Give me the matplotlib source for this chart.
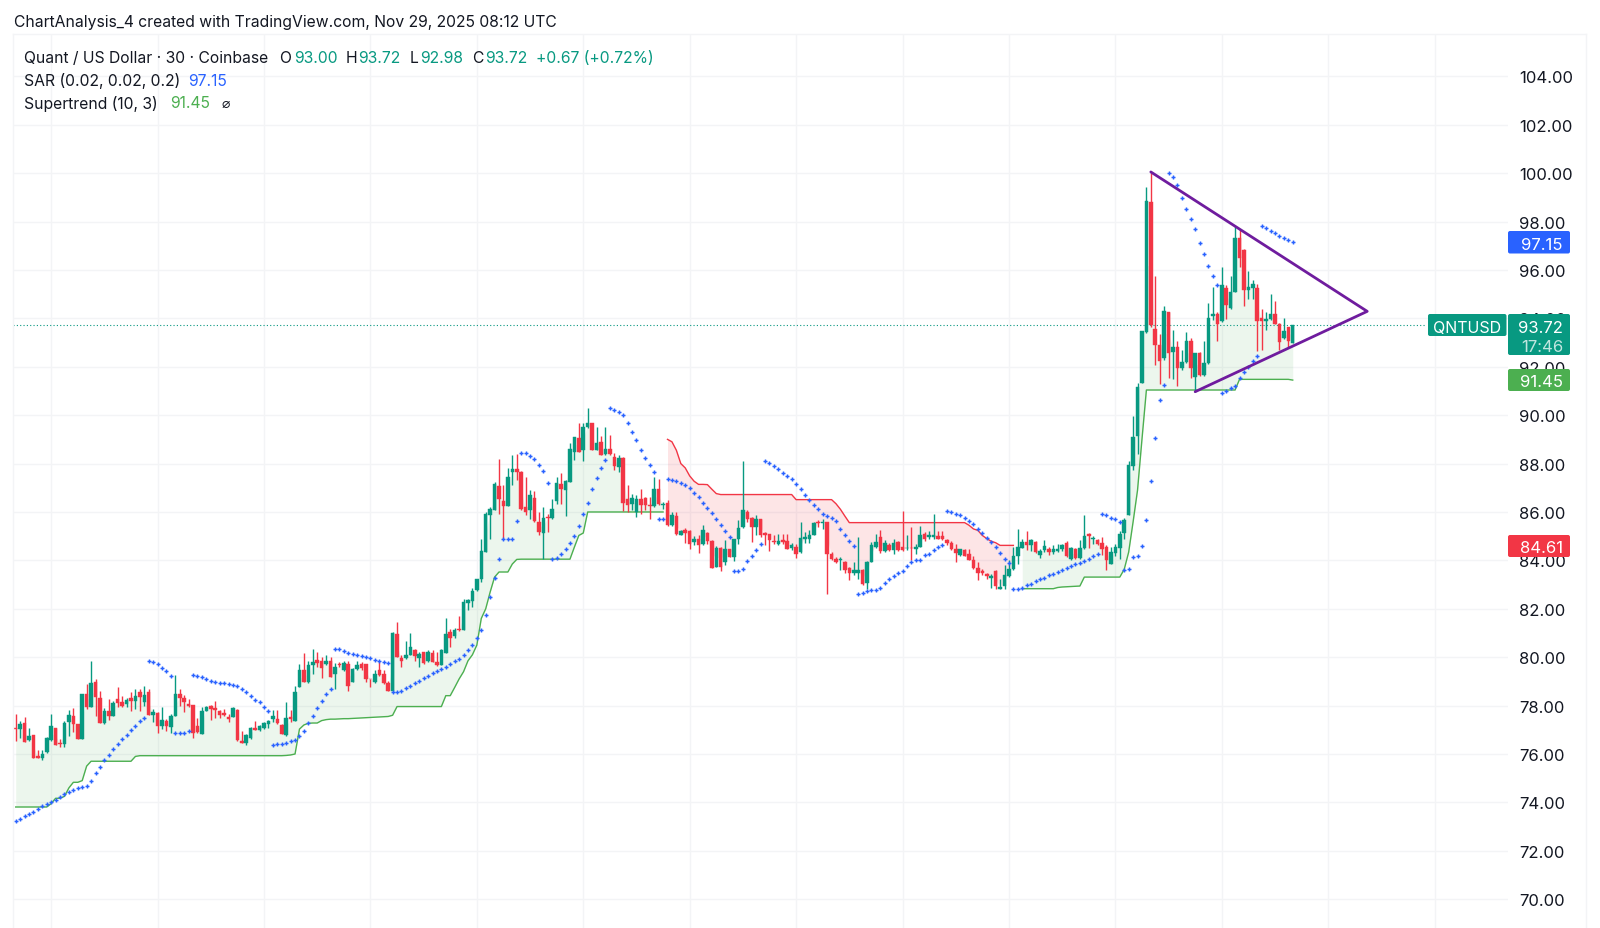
import numpy as np
import matplotlib
matplotlib.use('Agg')
from matplotlib import pyplot as plt
from matplotlib.patches import FancyBboxPatch

plt.rcParams['font.family'] = ['Inter', 'DejaVu Sans']

# 30 min candles
opens = [77.09,77.03,77.28,76.58,76.8,75.93,75.82,76.07,76.58,77.08,
76.45,76.41,77.34,77.59,77.23,76.62,78.48,77.96,78.99,78.3,
77.27,77.77,77.59,78.28,78.14,78.07,78.33,78.21,78.58,78.14,
78.58,77.63,77.7,77.14,77.38,77.1,77.56,78.48,78.3,78.07,
78.03,77.14,76.83,77.79,77.97,77.88,77.79,77.7,77.54,77.54,
77.83,76.55,76.44,76.65,77.08,76.99,77.08,77.23,77.45,77.45,
77.21,76.79,77.54,77.38,78.76,79.45,78.97,79.66,79.9,79.83,
79.72,79.83,79.31,79.72,79.49,79.72,78.97,79.52,79.72,79.7,
79.1,78.99,79.45,79.31,78.94,78.62,80.97,79.97,79.96,80.07,
80.28,79.96,80.2,79.83,80.17,79.82,79.68,80.18,81.03,80.86,
81.17,81.14,82.25,82.34,82.76,83.24,84.34,85.89,86.07,87.08,
86.46,86.25,87.66,87.77,87.66,86.2,86.07,86.58,85.59,85.14,
85.79,85.75,86.46,87.14,86.9,87.24,88.48,89.06,88.58,89.52,
89.67,88.58,88.9,88.41,88.59,88.28,87.86,88.23,86.55,86.34,
86.0,86.55,86.59,86.28,86.25,86.97,86.3,86.37,85.45,85.83,
85.06,85.24,85.2,84.76,84.9,84.69,85.13,84.81,83.72,84.51,
83.93,84.45,84.14,84.9,85.36,86.0,85.76,85.39,85.7,85.13,
85.09,84.81,84.69,84.83,84.81,84.51,84.55,84.34,84.9,84.9,
85.03,85.6,85.55,85.59,84.28,84.07,84.0,83.93,83.69,83.48,
83.49,83.59,83.06,83.93,84.55,84.97,84.37,84.65,84.41,84.76,
84.55,84.5,84.52,84.48,84.55,85.1,84.97,84.97,85.0,85.0,
84.83,84.73,84.45,84.23,84.41,84.25,84.03,83.68,83.56,83.45,
83.27,83.56,82.83,82.94,83.35,83.63,84.18,84.52,84.76,84.62,
84.76,84.21,84.41,84.48,84.34,84.37,84.45,84.72,84.07,84.48,
84.11,84.51,85.1,84.9,84.83,84.73,84.55,83.86,84.32,84.52,
85.14,85.89,87.9,89.14,91.31,93.44,98.79,93.58,92.89,92.37,
94.26,92.59,92.82,91.96,92.18,93.06,91.59,92.55,91.66,92.16,
94.08,94.17,93.88,95.25,94.43,95.09,97.31,96.83,95.16,95.26,
95.25,94.02,93.89,93.96,94.19,93.78,93.17,93.65,93.0]

closes = [77.05,77.24,76.51,76.76,75.85,75.83,76.0,76.68,77.14,76.39,
76.41,77.28,77.61,77.23,76.62,78.48,77.96,78.94,78.34,77.28,
77.77,77.59,78.11,78.1,78.0,78.25,78.17,78.41,78.34,78.44,
77.61,77.75,77.14,77.42,77.14,77.59,78.48,78.3,78.14,77.97,
76.87,76.9,77.77,77.96,77.86,77.82,77.61,77.61,77.45,77.9,
76.58,76.46,76.79,77.08,77.01,77.14,77.28,77.38,77.56,77.28,
76.83,77.48,77.45,78.58,79.48,78.97,79.66,79.79,79.77,79.56,
79.83,79.2,79.59,79.66,79.77,78.79,79.52,79.66,79.54,79.08,
79.08,79.31,79.27,78.94,78.62,81.0,80.0,79.83,80.07,80.41,
80.04,80.14,79.75,80.21,79.82,79.66,80.28,80.97,80.81,81.14,
81.12,82.3,82.36,82.73,83.21,84.39,85.93,86.11,87.14,86.52,
86.25,87.45,87.79,87.66,86.14,86.0,86.69,85.61,85.17,85.75,
85.75,86.14,87.21,86.97,87.27,88.59,89.1,88.48,89.52,89.68,
88.57,88.87,88.37,88.62,88.41,87.9,88.21,86.39,86.28,86.59,
86.55,86.28,86.3,86.25,86.97,86.32,86.34,85.45,85.89,85.08,
85.2,85.14,84.68,84.9,84.65,85.27,84.81,83.7,84.52,83.72,
84.45,84.14,84.9,85.34,86.07,85.72,85.39,85.7,85.03,85.06,
84.83,84.76,84.79,84.76,84.48,84.62,84.28,84.94,84.97,85.06,
85.54,85.54,85.6,84.28,84.07,83.93,84.07,83.59,83.49,83.59,
83.61,83.03,83.93,84.65,84.76,84.37,84.73,84.44,84.72,84.41,
84.41,84.52,84.5,84.55,85.06,84.9,85.03,85.03,84.9,84.9,
84.72,84.48,84.32,84.45,84.2,84.03,83.68,83.49,83.49,83.35,
83.35,82.94,82.92,83.38,83.63,84.2,84.55,84.76,84.65,84.83,
84.34,84.37,84.59,84.34,84.45,84.48,84.65,84.18,84.51,84.1,
84.51,85.01,85.01,84.94,84.66,84.48,84.0,84.34,84.55,85.08,
85.68,87.96,89.1,91.17,93.47,98.86,93.71,92.89,92.23,94.3,
92.55,92.8,91.93,92.21,93.06,91.96,92.55,91.68,92.16,94.03,
94.17,93.78,95.39,94.54,95.09,97.32,96.5,95.16,95.29,95.43,
93.89,93.89,93.99,94.19,93.78,93.03,93.47,93.06,93.72]

highs = [77.65,77.38,77.52,77.06,76.8,76.17,76.17,76.69,77.65,77.08,
76.62,77.38,77.83,77.89,77.23,78.48,78.9,79.83,79.08,78.62,
77.9,78.28,78.2,78.76,78.39,78.3,78.55,78.69,78.69,78.83,
78.69,77.86,77.72,77.96,77.45,77.65,79.27,78.69,78.44,78.28,
78.04,77.5,77.93,78.0,78.03,78.17,77.83,77.86,77.65,77.93,
77.86,76.97,76.83,77.13,77.38,77.2,77.34,77.41,77.83,77.83,
77.24,78.14,77.82,78.8,79.72,80.18,79.86,80.32,80.23,80.0,
80.1,80.0,79.77,79.82,79.83,79.86,79.54,79.86,79.79,79.72,
79.1,79.45,79.83,79.48,79.03,81.03,81.45,80.1,80.65,81.0,
80.32,80.21,80.21,80.28,80.3,80.2,80.32,81.61,81.17,81.2,
81.72,82.41,82.39,82.86,83.23,84.9,86.0,86.2,87.24,88.17,
87.1,87.8,88.37,88.41,87.7,87.45,86.9,86.86,86.0,86.2,
85.93,86.55,87.45,87.59,87.31,88.83,89.1,89.66,89.66,90.28,
89.68,89.52,89.15,89.52,89.2,88.45,88.34,88.28,87.1,86.76,
86.69,86.97,86.62,86.6,87.45,87.35,86.41,86.48,86.0,86.0,
85.24,85.34,85.24,85.0,85.03,85.48,85.17,84.85,84.6,84.55,
84.83,84.48,84.9,85.66,88.1,86.07,85.79,85.86,85.72,85.17,
85.1,85.03,85.1,85.08,85.1,84.73,84.69,85.59,85.17,85.24,
85.59,85.68,85.7,85.6,84.34,84.14,84.14,83.96,83.72,83.93,
84.97,83.66,83.96,84.76,85.1,85.24,84.83,84.7,84.9,84.8,
86.03,85.06,85.38,84.69,85.41,85.17,85.2,85.93,85.2,85.2,
84.9,84.79,84.69,84.48,84.45,84.45,84.2,83.93,83.63,83.49,
83.45,83.59,83.24,83.79,84.0,84.55,85.28,84.9,85.2,84.9,
84.79,84.45,84.83,84.55,84.65,84.69,84.69,84.79,84.55,84.51,
84.83,85.86,85.14,85.0,84.87,84.97,84.62,84.55,84.69,85.2,
85.75,88.1,89.97,91.35,93.49,99.41,100.02,95.77,93.37,94.51,
94.27,93.51,93.06,92.69,93.44,93.17,92.55,92.59,93.06,94.65,
95.29,94.26,96.12,95.36,95.77,97.8,97.69,96.87,95.94,95.57,
95.43,94.4,94.26,94.99,94.7,93.79,94.03,93.66,93.72]

lows = [76.55,76.65,76.5,76.55,75.82,75.82,75.77,76.04,76.55,76.38,
76.28,76.28,76.76,76.9,76.6,76.6,77.86,77.96,77.59,77.28,
77.24,77.41,77.56,77.93,77.93,77.93,77.79,77.86,77.79,78.0,
77.61,77.31,76.87,77.03,76.97,76.87,77.56,77.97,77.72,77.93,
76.66,76.87,76.83,77.76,77.42,77.49,77.49,77.56,77.31,77.52,
76.55,76.44,76.37,76.62,76.99,76.97,77.03,77.09,77.34,77.24,
76.83,76.76,77.31,77.38,78.76,78.97,78.94,79.31,79.59,79.13,
79.68,79.17,78.69,79.59,79.41,78.62,78.97,79.49,79.49,78.97,
78.76,78.94,79.24,78.9,78.59,78.62,80.0,79.61,79.93,80.07,
79.86,79.59,79.72,79.79,79.79,79.65,79.68,80.18,80.41,80.79,
81.1,81.14,81.93,82.07,82.75,83.1,84.34,84.9,86.07,85.93,
84.9,86.25,87.1,87.31,86.1,85.89,85.7,85.59,85.03,84.07,
85.17,85.7,86.34,86.34,85.83,87.24,88.14,88.48,88.1,89.48,
88.56,88.55,88.35,88.35,88.37,87.72,87.66,86.03,86.0,86.07,
85.79,85.93,86.1,85.7,86.2,86.28,86.14,85.42,85.42,85.03,
85.03,84.73,84.48,84.62,84.32,84.65,84.66,83.69,83.72,83.57,
83.79,84.14,83.96,84.69,85.34,85.6,84.76,85.03,84.97,84.65,
84.37,84.69,84.65,84.69,84.48,84.41,84.1,84.32,84.73,84.73,
85.03,85.38,85.31,82.62,84.03,83.9,83.6,83.49,83.17,83.38,
83.24,83.0,82.83,83.93,84.5,84.32,84.34,84.4,84.28,84.37,
84.37,84.41,84.03,84.28,84.55,84.79,84.9,84.9,84.9,84.85,
84.62,84.41,83.93,84.2,84.18,84.0,83.66,83.17,83.38,83.21,
82.85,82.83,82.8,82.8,83.31,83.59,83.86,84.51,84.41,84.37,
84.3,84.11,84.34,84.23,84.28,84.34,84.37,84.14,84.03,84.07,
84.07,84.48,84.51,84.69,84.62,84.21,83.61,83.83,84.18,84.07,
84.9,85.89,87.72,88.41,91.31,93.4,93.65,92.07,91.27,92.27,
91.52,91.49,91.22,91.86,92.14,91.55,90.97,91.63,91.63,92.1,
93.92,93.06,93.85,93.99,94.4,95.09,96.11,94.5,94.81,94.81,
92.66,92.69,93.51,93.92,93.78,92.69,93.14,92.78,92.98]

# supertrend, first up leg
st_up1 = [73.81,73.81,73.81,73.81,73.81,73.81,73.81,73.81,73.95,74.17,
74.17,74.25,74.6,74.83,74.83,74.9,75.5,75.7,75.7,75.7,
75.7,75.7,75.7,75.7,75.7,75.7,75.7,75.9,75.93,75.93,
75.93,75.93,75.93,75.93,75.93,75.93,75.93,75.93,75.93,75.93,
75.93,75.93,75.93,75.93,75.93,75.93,75.93,75.93,75.93,75.93,
75.93,75.93,75.93,75.93,75.93,75.93,75.93,75.93,75.93,75.93,
75.93,75.94,75.96,76.0,77.03,77.2,77.27,77.28,77.28,77.38,
77.42,77.44,77.44,77.45,77.46,77.46,77.47,77.48,77.49,77.5,
77.51,77.52,77.53,77.54,77.55,77.6,77.96,77.96,77.96,77.96,
77.96,77.96,77.96,77.96,77.96,77.96,77.96,78.41,78.41,78.75,
79.1,79.4,79.85,80.1,80.5,81.6,82.0,82.69,83.31,83.52,
83.52,83.52,83.85,84.04,84.05,84.05,84.05,84.05,84.05,84.05,
84.05,84.05,84.05,84.05,84.05,84.05,84.55,85.03,85.13,86.0,
86.0,86.0,86.0,86.0,86.0,86.0,86.0,86.0,86.0,86.0,
86.0,86.0,86.0,86.0,86.0,86.0,86.0]
# down leg
st_down = [89.0,88.9,88.55,88.0,87.82,87.49,87.27,87.14,87.14,87.13,
86.94,86.76,86.72,86.72,86.72,86.72,86.72,86.72,86.72,86.72,
86.72,86.72,86.72,86.72,86.72,86.72,86.72,86.72,86.72,86.51,
86.51,86.51,86.51,86.51,86.51,86.51,86.51,86.51,86.34,86.11,
85.83,85.56,85.56,85.56,85.56,85.56,85.56,85.56,85.56,85.56,
85.56,85.56,85.56,85.56,85.56,85.56,85.56,85.56,85.56,85.56,
85.56,85.56,85.56,85.56,85.56,85.56,85.56,85.56,85.45,85.3,
85.24,85.03,84.9,84.79,84.73,84.62,84.62,84.62,84.62]
# last up leg
st_up2 = [82.83,82.83,82.83,82.83,82.83,82.83,82.83,82.83,82.88,82.9,
82.91,82.92,82.93,82.94,83.31,83.31,83.31,83.31,83.31,83.31,
83.31,83.31,83.31,83.63,84.34,85.59,86.9,89.0,91.04,91.04,
91.04,91.04,91.04,91.04,91.04,91.04,91.04,91.04,91.04,91.04,
91.04,91.04,91.04,91.04,91.04,91.04,91.04,91.04,91.04,91.48,
91.48,91.48,91.48,91.48,91.48,91.48,91.48,91.48,91.48,91.48,
91.48,91.45]

sar = [73.22,73.32,73.42,73.52,73.62,73.72,73.85,73.95,74.02,74.1,
74.21,74.34,74.41,74.52,74.58,74.62,74.69,74.87,75.2,75.45,
75.75,75.97,76.21,76.41,76.62,76.8,77.0,77.17,77.35,77.49,
79.83,79.79,79.72,79.56,79.41,79.21,
76.87,76.87,76.87,76.95,
79.27,79.24,79.19,79.1,79.03,78.99,78.95,78.92,78.88,78.86,
78.8,78.69,78.55,78.41,78.23,78.14,77.96,77.79,
76.37,76.4,76.43,76.46,76.54,76.59,76.73,76.97,77.28,77.59,
77.9,78.18,78.46,78.69,
80.34,80.32,80.25,80.19,80.14,80.1,80.04,80.0,79.96,79.9,
79.86,79.82,79.77,
78.58,78.58,78.62,78.73,78.83,78.92,79.03,79.13,79.24,79.34,
79.42,79.52,79.61,79.72,79.83,79.93,80.07,80.3,80.51,80.8,
81.14,81.75,82.48,83.27,84.04,84.9,84.9,84.9,85.61,
88.43,88.43,88.32,88.18,87.96,87.68,87.21,
84.07,84.11,84.28,84.48,84.72,85.01,85.42,85.93,86.37,86.94,
87.41,87.82,88.14,
90.3,90.23,90.14,90.0,89.68,89.31,88.97,88.58,88.25,87.96,87.66,
85.7,85.7,
87.38,87.34,87.28,87.2,87.1,86.99,86.8,86.62,86.39,86.18,
85.96,85.7,85.48,85.2,84.97,
83.56,83.57,83.66,83.96,84.18,84.41,84.66,
88.11,88.04,87.89,87.77,87.63,87.48,87.35,87.17,86.94,86.72,
86.48,86.3,86.11,85.93,85.83,85.75,85.61,85.31,85.06,84.79,84.59,
82.62,82.65,82.72,82.76,82.79,82.87,83.08,83.21,83.34,83.48,
83.56,83.75,83.93,84.03,84.03,84.21,84.28,84.44,84.55,84.65,
86.04,86.0,85.93,85.89,85.77,85.63,85.49,85.31,85.13,84.94,
84.76,84.55,84.3,84.07,83.9,
82.8,82.83,82.87,82.97,83.03,83.13,83.21,83.28,83.38,83.45,
83.52,83.61,83.68,83.77,83.83,83.89,83.96,84.07,84.18,84.28,
85.9,85.86,85.75,85.7,85.59,
83.59,83.66,84.14,84.2,84.6,85.66,87.28,89.05,90.63,91.25,
99.99,99.84,99.5,98.99,98.52,98.1,97.69,97.12,96.64,96.18,95.77,95.39,
90.93,91.01,91.11,91.22,91.52,91.77,92.0,92.23,92.45,
97.83,97.73,97.62,97.53,97.42,97.32,97.25,97.14]

# hand drawn triangle, bar index and price
tri_x = [256.0, 304.8, 266.0]
tri_y = [100.05, 94.29, 90.97]

price_ticks = list(range(70, 106, 2))
time_grid = list(range(8, 330, 24))
last_price = 93.72

UP = '#089981'
DOWN = '#F23645'
BLUE = '#2962FF'
ST_GREEN = '#4CAF50'
GRID = '#F3F4F6'
PURPLE = '#6F1C9E'

o = np.array(opens)
c = np.array(closes)
h = np.array(highs)
l = np.array(lows)
x = np.arange(len(o))
mid = (o + c) / 2

fig = plt.figure(figsize=(16, 9.29), dpi=100)
# pane runs 13..1508 px across and 35..929 px down
ax = fig.add_axes([13.3 / 1600, 0, (1508 - 13.3) / 1600, (929 - 35) / 929])
ax.set_xlim(-0.54, 336.55)
ax.set_ylim(68.81, 105.75)

ax.set_axisbelow(True)
ax.grid(True, color=GRID, lw=1.0)
ax.set_xticks(time_grid)
ax.set_yticks(price_ticks)
ax.set_yticklabels(['%.2f' % p for p in price_ticks])
ax.yaxis.tick_right()
ax.tick_params(axis='both', length=0, labelbottom=False, labelsize=12, labelcolor='#131722')
ax.tick_params(axis='y', pad=8)
for s in ax.spines.values():
    s.set_visible(False)

# supertrend fills and lines
x1 = x[:147]
x2 = x[147:226]
x3 = x[227:]
ax.fill_between(x1, st_up1, mid[:147], color=ST_GREEN, alpha=0.1, lw=0, zorder=1)
ax.fill_between(x2, st_down, mid[147:226], color=DOWN, alpha=0.13, lw=0, zorder=1)
ax.fill_between(x3, st_up2, mid[227:], color=ST_GREEN, alpha=0.1, lw=0, zorder=1)
ax.plot(x1, st_up1, color=ST_GREEN, lw=1.0, zorder=2)
ax.plot(x2, st_down, color=DOWN, lw=1.0, zorder=2)
ax.plot(x3, st_up2, color=ST_GREEN, lw=1.0, zorder=2)

# last price line
ax.axhline(last_price, color=UP, lw=0.8, ls=(0, (1, 2)), xmax=(1426 - 13.3) / (1508 - 13.3), zorder=2)

# candles
colors = [UP if cl >= op else DOWN for op, cl in zip(o, c)]
ax.vlines(x, l, h, colors=colors, lw=1.0, zorder=3)
ax.bar(x, np.abs(c - o), bottom=np.minimum(o, c), width=0.8, color=colors, edgecolor=colors, lw=0.3, zorder=4)

# parabolic sar
ax.scatter(x, sar, marker='+', s=10, color=BLUE, linewidths=1.05, zorder=5)

# triangle
ax.plot(tri_x, tri_y, color=PURPLE, lw=2.0, zorder=6, solid_capstyle='round')

# overlay in pixels for header text and price badges
ov = fig.add_axes([0, 0, 1, 1])
ov.set_xlim(0, 1600)
ov.set_ylim(929, 0)
ov.axis('off')
ov.patch.set_visible(False)

ov.plot([13.3, 13.3], [35, 929], color=GRID, lw=1)
ov.plot([13.3, 1586], [35, 35], color=GRID, lw=1)
ov.plot([1586, 1586], [35, 929], color=GRID, lw=1)


def badge(x0, x1, y0, y1, col):
    ov.add_patch(FancyBboxPatch((x0, y0), x1 - x0, y1 - y0, boxstyle='round,pad=0,rounding_size=2', fc=col, ec='none', mutation_aspect=1))


badge(1508, 1570, 232, 254.5, BLUE)
badge(1428, 1506.5, 315, 337, UP)
badge(1508, 1570, 315, 356, UP)
badge(1508, 1570, 370, 392, ST_GREEN)
badge(1508, 1570, 536, 558, DOWN)

for ty, txt, a in [(243.5, '97.15', 1), (326.5, '93.72', 1), (345.5, '17:46', 0.75), (381, '91.45', 1), (547, '84.61', 1)]:
    ov.text(1563, ty, txt, color='white', alpha=a, fontsize=12, ha='right', va='center_baseline')
ov.text(1467, 326.5, 'QNTUSD', color='white', fontsize=11.5, ha='center', va='center_baseline')

TXT = '#131722'
FS = 11.3
ov.text(14, 21, 'ChartAnalysis_4 created with TradingView.com, Nov 29, 2025 08:12 UTC', color=TXT, fontsize=FS, va='center_baseline')
ov.text(24, 57, 'Quant / US Dollar · 30 · Coinbase', color=TXT, fontsize=FS, va='center_baseline')
for tx, txt, col in [(279.5, 'O', TXT), (294, '93.00', UP), (346, 'H', TXT), (358, '93.72', UP), (410, 'L', TXT), (420.5, '92.98', UP),
                     (472.5, 'C', TXT), (484.7, '93.72', UP), (535.7, '+0.67 (+0.72%)', UP)]:
    ov.text(tx, 57, txt, color=col, fontsize=FS, va='center_baseline')
ov.text(24, 79.5, 'SAR (0.02, 0.02, 0.2)', color=TXT, fontsize=FS, va='center_baseline')
ov.text(188.5, 79.5, '97.15', color=BLUE, fontsize=FS, va='center_baseline')
ov.text(24, 102, 'Supertrend (10, 3)', color=TXT, fontsize=FS, va='center_baseline')
ov.text(170, 102, '91.45', color=ST_GREEN, fontsize=FS, va='center_baseline')
ov.text(222, 102, '⌀', color=TXT, fontsize=10, va='center_baseline')

fig.savefig('out.png', dpi=100)
